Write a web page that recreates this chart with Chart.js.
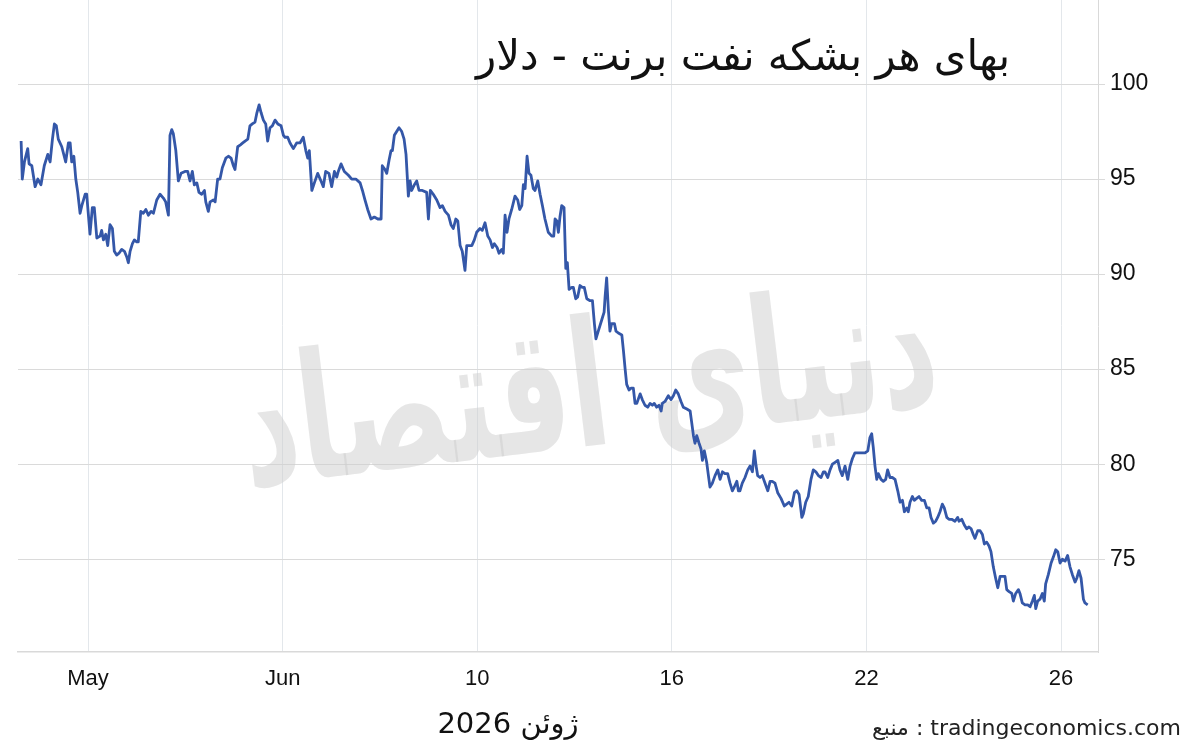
<!DOCTYPE html>
<html>
<head>
<meta charset="utf-8">
<script src="https://cdn.jsdelivr.net/npm/chart.js@4.4.1/dist/chart.umd.min.js"></script>
<style>
  html, body { margin: 0; padding: 0; background: #ffffff; }
  #wrap { width: 1200px; height: 749px; position: relative; }
</style>
</head>
<body>
<div id="wrap"><canvas id="c" width="1200" height="749"></canvas></div>
<script>
// ---- Data ----
const chartTitle = "بهای هر بشکه نفت برنت - دلار";
const periodLabel = "ژوئن 2026";
const sourceLabel = "منبع : tradingeconomics.com";
const watermarkText = "دنیای اقتصاد";

const tickLabels = ["May", "Jun", "10", "16", "22", "26"];
const tickPositions = [0, 10, 20, 30, 40, 50];
const yTicks = [75, 80, 85, 90, 95, 100];

const sessionX = [
  -3.44,-3.38,-3.27,-3.10,-3.03,-2.89,-2.72,-2.58,-2.42,-2.25,-2.07,-1.95,-1.83,-1.73,-1.63,-1.53,-1.35,-1.15,-1.01,-0.92,
  -0.84,-0.73,-0.63,-0.53,-0.41,-0.32,-0.15,-0.07,0.10,0.22,0.32,0.45,0.62,0.70,0.79,0.91,1.01,1.13,1.25,1.35,
  1.47,1.59,1.73,1.87,1.99,2.07,2.16,2.28,2.38,2.50,2.58,2.71,2.84,2.97,3.10,3.24,3.36,3.53,3.70,3.87,
  3.99,4.13,4.21,4.30,4.38,4.51,4.64,4.78,4.98,5.12,5.24,5.36,5.46,5.59,5.70,5.84,5.98,6.05,6.18,6.27,
  6.44,6.53,6.66,6.78,6.90,7.08,7.21,7.35,7.47,7.55,7.69,7.83,7.95,8.07,8.21,8.32,8.44,8.58,8.68,8.79,
  8.89,9.01,9.13,9.23,9.35,9.47,9.61,9.75,9.92,10.04,
  10.12,10.26,10.38,10.55,10.72,10.89,11.06,11.19,11.29,11.37,11.50,11.63,11.80,11.97,12.09,12.21,12.38,12.52,12.66,12.78,
  12.86,13.00,13.17,13.38,13.55,13.76,13.98,14.10,14.23,14.37,14.54,14.71,14.89,15.06,15.12,15.26,15.35,15.47,15.57,15.64,
  15.74,15.86,15.98,16.12,16.24,16.34,16.46,16.55,16.63,16.77,16.89,17.01,17.18,17.40,17.49,17.59,17.74,17.92,18.09,18.21,
  18.35,18.52,18.65,18.77,18.90,19.00,19.12,19.23,19.37,19.46,19.58,19.72,19.85,19.97,20.14,20.26,20.40,20.54,20.66,20.78,
  20.88,21.02,21.12,21.26,21.34,21.43,21.53,21.63,21.77,21.94,22.08,22.18,22.29,22.37,22.46,22.56,22.66,22.76,22.88,22.97,
  23.11,23.23,23.35,23.48,23.65,23.83,23.93,
  24.00,24.09,24.17,24.25,24.34,24.46,24.55,24.63,24.72,24.86,24.94,25.06,25.16,25.28,25.40,25.50,25.63,25.80,25.92,26.02,
  26.10,26.22,26.40,26.52,26.57,26.65,26.74,26.82,26.91,27.05,27.13,27.25,27.43,27.51,27.60,27.68,27.80,27.90,28.02,28.11,
  28.20,28.37,28.48,28.62,28.76,28.88,29.00,29.10,29.22,29.34,29.45,29.51,29.65,29.82,29.96,30.08,30.20,30.33,30.47,30.59,
  30.77,30.94,31.02,31.11,31.19,31.28,31.40,31.50,31.57,31.67,31.79,31.88,31.96,32.08,32.22,32.36,32.48,32.60,32.73,32.87,
  32.99,33.11,33.21,33.34,33.42,33.50,33.62,33.76,33.90,34.02,34.14,34.24,34.33,34.41,34.53,34.65,34.79,34.93,35.05,35.16,
  35.30,35.44,35.61,35.78,35.90,36.02,36.16,36.30,36.42,36.54,36.68,36.76,36.88,37.01,37.15,37.27,37.40,37.53,37.67,37.79,
  37.87,38.01,38.13,38.25,38.39,38.53,38.64,38.76,38.90,39.04,39.16,39.28,39.41,39.58,39.76,39.93,40.07,40.18,40.27,40.35,
  40.44,40.53,40.61,40.75,40.87,40.99,41.09,41.21,41.33,41.47,41.61,41.73,41.85,41.95,42.07,42.15,42.24,42.36,42.46,42.58,
  42.70,42.84,42.98,43.10,43.22,43.32,43.44,43.56,43.66,43.78,43.90,44.00,44.13,44.24,44.38,44.55,44.69,44.76,44.90,45.03,
  45.15,45.27,45.38,45.49,45.58,45.72,45.84,45.96,46.06,46.18,46.30,46.40,46.52,46.64,46.75,46.87,46.98,47.12,47.21,47.33,
  47.47,47.55,47.67,47.81,47.89,48.01,48.15,48.29,48.41,48.53,48.63,48.70,48.80,48.92,49.04,49.14,49.21,49.35,49.49,49.60,
  49.73,49.83,49.95,50.07,50.21,50.34,50.46,50.58,50.72,50.81,50.92,51.03,51.15,51.23,51.37
];

const brentPrice = [
  97.0,95.0,95.9,96.6,95.8,95.7,94.6,95.0,94.7,95.7,96.3,95.9,97.1,97.9,97.8,97.1,96.7,95.9,96.9,96.9,
  95.9,96.2,95.0,94.3,93.2,93.6,94.2,94.2,92.1,93.5,93.5,91.9,92.0,92.3,91.8,92.1,91.5,92.6,92.4,91.2,
  91.0,91.1,91.3,91.2,90.9,90.6,91.2,91.6,91.8,91.7,91.7,93.3,93.2,93.4,93.1,93.3,93.2,93.9,94.2,94.0,
  93.8,93.1,97.3,97.6,97.4,96.5,94.9,95.3,95.4,95.4,94.9,95.4,94.7,94.8,94.3,94.2,94.4,93.8,93.3,93.8,
  93.9,93.8,95.0,95.0,95.6,96.1,96.2,96.1,95.7,95.5,96.7,96.8,96.9,97.0,97.1,97.8,97.9,98.0,98.5,98.9,
  98.5,98.1,97.9,97.0,97.7,97.8,98.1,97.9,97.8,97.3,
  97.2,97.2,96.9,96.6,96.9,96.9,97.2,96.5,96.1,96.5,94.4,94.8,95.3,94.9,94.6,95.4,95.3,94.6,95.4,95.1,
  95.4,95.8,95.4,95.2,95.0,95.0,94.8,94.4,93.9,93.4,92.9,93.0,92.9,92.9,95.7,95.5,95.3,96.0,96.5,96.5,
  97.3,97.5,97.7,97.5,97.1,96.3,94.1,94.9,94.4,94.7,94.9,94.4,94.4,94.3,92.9,94.4,94.2,93.9,93.5,93.6,
  93.3,93.1,92.6,92.4,92.9,92.8,91.5,91.2,90.2,91.5,91.5,91.5,91.8,92.2,92.4,92.3,92.7,92.0,91.8,91.4,
  91.6,91.4,91.1,91.3,91.1,93.1,92.2,92.9,93.4,94.1,93.9,93.4,93.6,94.7,94.5,96.2,95.3,95.2,94.5,94.4,
  94.9,94.2,93.6,92.9,92.2,92.0,92.0,
  92.9,92.8,92.2,93.0,93.6,93.5,90.3,90.6,89.2,89.3,89.3,88.7,88.8,89.4,89.3,89.3,88.7,88.6,88.6,87.4,
  86.6,87.0,87.6,88.0,88.8,89.8,88.1,87.0,87.4,87.4,87.0,86.9,86.8,86.0,85.0,84.2,83.9,84.0,84.0,83.2,
  83.2,83.7,83.4,83.1,83.0,83.2,83.1,83.2,83.0,83.1,82.8,83.2,83.3,83.6,83.4,83.6,83.9,83.7,83.3,83.0,
  82.9,82.8,82.2,81.5,81.1,81.5,81.1,80.8,80.2,80.7,80.1,79.4,78.8,79.0,79.4,79.7,79.2,79.6,79.5,79.5,
  79.0,78.6,78.8,79.1,78.6,78.6,79.0,79.3,79.7,79.9,79.6,80.7,79.9,79.4,79.3,79.4,79.0,78.6,79.1,79.1,
  79.0,78.5,78.2,77.8,77.9,78.0,77.8,78.5,78.6,78.4,77.2,77.4,78.0,78.3,79.2,79.7,79.6,79.4,79.3,79.6,
  79.6,79.3,79.7,80.0,80.1,80.2,79.7,79.4,79.9,79.2,79.9,80.3,80.6,80.6,80.6,80.6,80.7,81.4,81.6,80.9,
  79.9,79.2,79.5,79.2,79.1,79.2,79.7,79.3,79.3,79.2,78.6,78.0,78.1,77.5,77.7,77.5,78.0,78.3,78.1,78.2,
  78.3,78.1,78.1,77.7,77.7,77.2,76.9,77.0,77.2,77.5,77.9,77.7,77.2,77.1,77.1,77.0,77.2,77.0,77.1,76.8,
  76.6,76.7,76.6,76.3,76.1,76.5,76.5,76.3,75.8,75.9,75.7,75.4,74.6,74.0,73.5,74.1,74.1,74.1,73.4,73.3,
  73.2,72.8,73.2,73.4,73.2,72.7,72.6,72.6,72.5,72.8,73.1,72.4,72.8,72.9,73.2,72.8,73.7,74.2,74.8,75.1,
  75.5,75.4,74.8,75.0,74.9,75.2,74.6,74.2,73.8,74.0,74.4,74.0,72.9,72.7,72.6
];

// ---- Chart ----
const nPts = Math.min(sessionX.length, brentPrice.length);
const points = [];
for (let i = 0; i < nPts; i++) points.push({ x: sessionX[i], y: brentPrice[i] });

const decorPlugin = {
  id: 'decor',
  beforeDatasetsDraw(chart) {
    const ctx = chart.ctx;
    ctx.save();
    ctx.translate(590, 400);
    ctx.rotate(-0.12);
    ctx.direction = 'rtl';
    ctx.textAlign = 'center';
    ctx.textBaseline = 'middle';
    ctx.fillStyle = 'rgba(205,205,205,0.5)';
    ctx.font = 'bold 175px "DejaVu Sans"';
    ctx.fillText(watermarkText, 0, 0, 700);
    ctx.restore();
  },
  afterDraw(chart) {
    const ctx = chart.ctx;
    ctx.save();
    ctx.fillStyle = '#111111';
    // Title
    ctx.direction = 'rtl';
    ctx.textAlign = 'center';
    ctx.textBaseline = 'alphabetic';
    ctx.font = '42px "DejaVu Sans"';
    ctx.fillText(chartTitle, 743, 70, 534);
    // Period label
    ctx.font = '29px "DejaVu Sans"';
    ctx.fillText(periodLabel, 508, 733, 142);
    // Source
    ctx.direction = 'ltr';
    ctx.textAlign = 'right';
    ctx.font = '22px "DejaVu Sans"';
    ctx.fillStyle = '#222222';
    ctx.fillText(sourceLabel, 1181, 735);
    ctx.restore();
  }
};

new Chart(document.getElementById('c'), {
  type: 'line',
  data: {
    datasets: [{
      data: points,
      borderColor: '#3457a8',
      borderWidth: 2.8,
      pointRadius: 0,
      tension: 0,
      borderJoinStyle: 'round',
      fill: false
    }]
  },
  options: {
    responsive: false,
    animation: false,
    devicePixelRatio: 1,
    layout: { padding: { left: 18, top: 0, right: 0, bottom: 0 } },
    plugins: { legend: { display: false }, tooltip: { enabled: false }, title: { display: false } },
    scales: {
      x: {
        type: 'linear',
        min: -3.6,
        max: 51.9,
        afterBuildTicks: (s) => { s.ticks = tickPositions.map(v => ({ value: v })); },
        afterFit: (s) => { s.height = 97; s.paddingLeft = 0; s.paddingRight = 0; s.paddingTop = 0; s.paddingBottom = 0; },
        ticks: {
          autoSkip: false,
          maxRotation: 0,
          padding: 14,
          color: '#111111',
          font: { family: '"Liberation Sans", Arial, sans-serif', size: 22 },
          callback: (v) => { const i = tickPositions.indexOf(v); return i >= 0 ? tickLabels[i] : ''; }
        },
        grid: { color: '#e3e7eb', lineWidth: 1, drawTicks: false },
        border: { display: true, color: '#d9d9d9', width: 1.5 }
      },
      y: {
        position: 'right',
        min: 70.12,
        max: 104.42,
        afterBuildTicks: (s) => { s.ticks = yTicks.map(v => ({ value: v })); },
        afterFit: (s) => { s.width = 102; s.paddingTop = 0; s.paddingBottom = 0; s.paddingLeft = 0; s.paddingRight = 0; },
        ticks: {
          padding: 5,
          color: '#111111',
          font: { family: '"Liberation Sans", Arial, sans-serif', size: 23 }
        },
        grid: { color: '#dadada', lineWidth: 1, tickLength: 7 },
        border: { display: true, color: '#d9d9d9', width: 1 }
      }
    }
  },
  plugins: [decorPlugin]
});
</script>
</body>
</html>
